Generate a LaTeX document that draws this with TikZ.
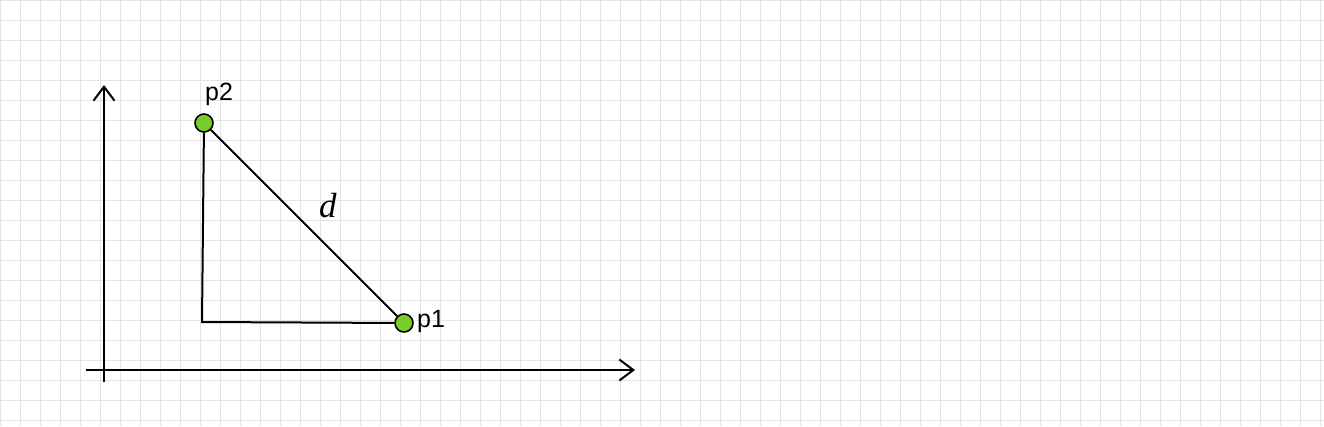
\documentclass[tikz,border=0pt]{standalone}
\usepackage{fontspec}
\newfontfamily\labelsans{Liberation Sans}
\newfontfamily\labelserif{Liberation Serif}
\usetikzlibrary{arrows.meta}
\definecolor{gridgray}{RGB}{228,228,228}
\definecolor{ptgreen}{RGB}{122,204,40}
\tikzset{
  gridline/.style={draw=gridgray, line width=1pt},
  axis/.style={draw=black, line width=2pt, -{Straight Barb[length=14pt,width=21pt,line width=2pt]}},
  edge/.style={draw=black, line width=2pt},
  ptnode/.style={circle, draw=black, line width=1.6pt, fill=ptgreen, minimum size=18pt, inner sep=0pt},
  plabel/.style={anchor=base west, inner sep=0pt, font=\labelsans\fontsize{25}{25}\selectfont},
}
\begin{document}
\begin{tikzpicture}[x=1pt,y=-1pt]
\useasboundingbox (0,0) rectangle (1324,426);
\fill[white] (0,0) rectangle (1324,426);
\foreach \gx in {0,20,...,1320} { \draw[gridline] (\gx,0) -- (\gx,426); }
\foreach \gy in {0,20,...,420} { \draw[gridline] (0,\gy) -- (1324,\gy); }
% axes
\coordinate (ystart) at (104,382);
\coordinate (yend) at (104,85);
\coordinate (xstart) at (86,370);
\coordinate (xend) at (635,370);
\draw[axis] (ystart) -- (yend);
\draw[axis] (xstart) -- (xend);
% triangle
\coordinate (corner) at (202,322);
\node[ptnode] (p2) at (204,123) {};
\node[ptnode] (p1) at (404,323) {};
\draw[edge] (p2) -- (corner) -- (p1);
\draw[edge] (p1) -- (p2);
% labels
\node[plabel] (lp2) at (205,100) {p2};
\node[plabel] (lp1) at (417,327) {p1};
\node[anchor=base west, inner sep=0pt, font=\labelserif\itshape\fontsize{35}{35}\selectfont] (dl) at (319,217) {d};
\end{tikzpicture}
\end{document}
